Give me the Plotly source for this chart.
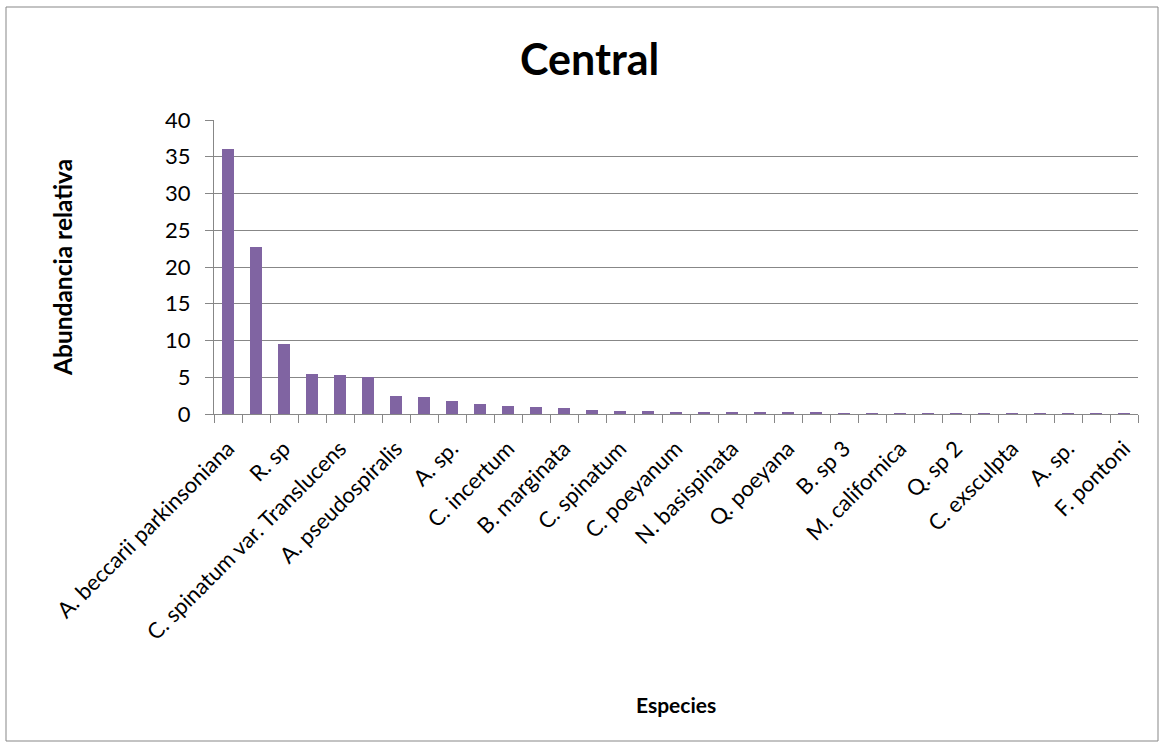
import plotly.graph_objects as go

# Relative abundance per species (ranked), Central station
species_labels = [
    "A. beccarii parkinsoniana", "R. sp", "C. spinatum var. Translucens",
    "A. pseudospiralis", "A. sp.", "C. incertum", "B. marginata",
    "C. spinatum", "C. poeyanum", "N. basispinata", "Q. poeyana",
    "B. sp 3", "M. californica", "Q. sp 2", "C. exsculpta", "A. sp.",
    "F. pontoni",
]
abundance = [
    36.0, 22.7, 9.5, 5.5, 5.3, 5.0, 2.5, 2.35, 1.8, 1.35, 1.1,
    0.95, 0.8, 0.5, 0.42, 0.42, 0.28, 0.27, 0.25, 0.15, 0.14,
    0.14, 0.1, 0.05, 0.05, 0.05, 0.05, 0.05, 0.02, 0.02, 0.02,
    0.02, 0.02,
]
y_ticks = [0, 5, 10, 15, 20, 25, 30, 35, 40]

positions = list(range(len(abundance)))
label_positions = positions[::2]

W, H = 1164, 748
L, R, T, B = 214, 26, 120, 334
pw, ph = W - L - R, H - T - B


def px_x(x):
    return (x - L) / pw


def px_y(y):
    return (H - B - y) / ph


FONT = "Lato"
GRID = "#878787"

fig = go.Figure(
    go.Bar(
        x=positions,
        y=abundance,
        width=0.4,
        marker=dict(color="#8064A2", line=dict(width=0)),
    )
)

fig.update_layout(
    width=W,
    height=H,
    margin=dict(l=L, r=R, t=T, b=B),
    paper_bgcolor="white",
    plot_bgcolor="white",
    showlegend=False,
    font=dict(family=FONT, color="black", size=22),
    bargap=0,
)

fig.update_xaxes(
    range=[-0.5, len(abundance) - 0.5],
    tickmode="array",
    tickvals=label_positions,
    ticktext=species_labels,
    tickangle=-45,
    ticks="",
    ticklabelstandoff=12,
    tickfont=dict(size=22, family=FONT),
    showgrid=False,
    showline=True,
    linecolor=GRID,
    linewidth=1,
    zeroline=False,
    minor=dict(
        tickmode="linear",
        tick0=-0.5,
        dtick=1,
        ticks="outside",
        ticklen=8,
        tickcolor=GRID,
        tickwidth=1,
        showgrid=False,
    ),
)

fig.update_yaxes(
    range=[0, 40],
    tickmode="array",
    tickvals=y_ticks,
    ticks="outside",
    ticklen=8,
    tickcolor=GRID,
    tickwidth=1,
    tickfont=dict(size=22, family=FONT),
    ticklabelstandoff=10,
    showgrid=True,
    gridcolor=GRID,
    gridwidth=1,
    showline=True,
    linecolor=GRID,
    linewidth=1,
    zeroline=False,
)

# Chart title and axis titles
fig.add_annotation(
    text="<b>Central</b>", x=px_x(589), y=px_y(58),
    xref="paper", yref="paper", showarrow=False,
    font=dict(size=43, family=FONT), xanchor="center", yanchor="middle",
)
fig.add_annotation(
    text="<b>Abundancia relativa</b>", x=px_x(62), y=px_y(268),
    xref="paper", yref="paper", showarrow=False, textangle=-90,
    font=dict(size=24.5, family=FONT), xanchor="center", yanchor="middle",
)
fig.add_annotation(
    text="<b>Especies</b>", x=px_x(676), y=px_y(704),
    xref="paper", yref="paper", showarrow=False,
    font=dict(size=21, family=FONT), xanchor="center", yanchor="middle",
)

# Chart area frame
fig.add_shape(
    type="rect", xref="paper", yref="paper",
    x0=px_x(6), x1=px_x(1158), y0=px_y(741), y1=px_y(7),
    line=dict(color=GRID, width=1), fillcolor="rgba(0,0,0,0)",
    layer="below",
)

fig.write_html("out.html")
